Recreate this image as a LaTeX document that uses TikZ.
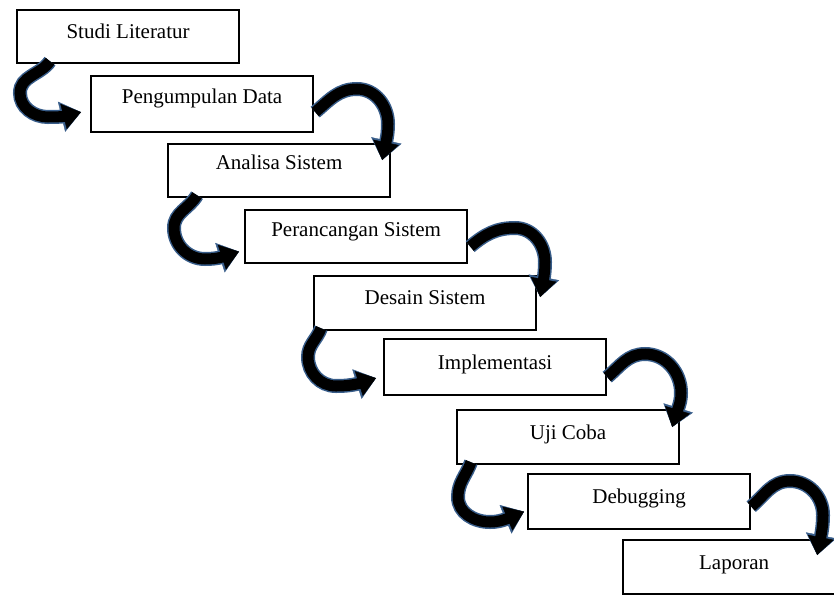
\documentclass[tikz,border=0pt]{standalone}
\usepackage{fontspec}
\setmainfont{Liberation Serif}
\usetikzlibrary{arrows.meta,bending,calc}
\definecolor{arrowblue}{RGB}{56,93,138}
\begin{document}
\begin{tikzpicture}[x=1pt,y=1pt,
  stepbox/.style={draw=black, line width=2.2pt, fill=white, minimum width=222pt,
    text height=25pt, text depth=23pt, inner xsep=0pt, inner ysep=3pt,
    anchor=north west, font=\fontsize{21}{25}\selectfont},
  flowarrow/.style={line width=11pt, draw=black, line cap=butt,
    -{Triangle[length=18pt,width=26pt,line width=0.4pt,flex]},
    preaction={draw=arrowblue, line width=14pt,
      -{Triangle[length=20pt,width=31pt,line width=0.4pt,flex]}}}
]
\useasboundingbox (0,0) rectangle (834,-594);
\clip (0,0) rectangle (834,-594);

% boxes
\node[stepbox, text depth=22pt] (b1) at (16,-9) {Studi Literatur};
\node[stepbox, text height=24pt, text depth=26pt] (b2) at (90,-75) {Pengumpulan Data};
\node[stepbox, text height=22pt, text depth=25pt] (b3) at (167,-143) {Analisa Sistem};
\node[stepbox, text height=23pt, text depth=24pt] (b4) at (244,-209) {Perancangan Sistem};
\node[stepbox] (b5) at (313,-275) {Desain Sistem};
\node[stepbox, text height=27pt, text depth=23pt] (b6) at (383,-338) {Implementasi};
\node[stepbox, text height=26pt, text depth=22pt] (b7) at (456,-409) {Uji Coba};
\node[stepbox, text height=26pt, text depth=23pt] (b8) at (527,-473) {Debugging};
\node[stepbox, text height=26pt, text depth=22pt] (b9) at (622,-539) {Laporan};

% left-hand curved arrows
\draw[flowarrow] ($(b1.south west)+(34,3)$) to[out=235,in=90] (20,-93)
  to[out=-90,in=180] (48,-117) to[out=0,in=200] ($(b2.west)+(-9,-8)$);
\draw[flowarrow] ($(b3.south west)+(30,3)$) to[out=240,in=90] (174,-228)
  to[out=-90,in=180] (205,-259) to[out=0,in=200] ($(b4.west)+(-5,-15)$);
\draw[flowarrow] ($(b5.south west)+(8,3)$) to[out=250,in=90] (308,-357)
  to[out=-90,in=180] (336,-386) to[out=0,in=200] ($(b6.west)+(-7,-11)$);
\draw[flowarrow] ($(b7.south west)+(15,3)$) to[out=250,in=90] (458,-497)
  to[out=-90,in=180] (490,-522) to[out=0,in=200] ($(b8.west)+(-3,-10)$);

% right-hand curved arrows
\draw[flowarrow] ($(b2.east)+(1,-8)$) to[out=40,in=180] (357,-89)
  to[out=0,in=90] (388,-124) to[out=-90,in=80] ($(b3.north east)+(-9,-17)$);
\draw[flowarrow] ($(b4.east)+(2,-10)$) to[out=40,in=180] (515,-228)
  to[out=0,in=90] (545,-262) to[out=-90,in=80] ($(b5.north east)+(3,-22)$);
\draw[flowarrow] ($(b6.east)+(0,-10)$) to[out=40,in=180] (645,-354)
  to[out=0,in=90] (681,-393) to[out=-90,in=80] ($(b7.north east)+(-8,-18)$);
\draw[flowarrow] ($(b8.east)+(0,-5)$) to[out=40,in=180] (790,-481)
  to[out=0,in=90] (823,-515) to[out=-90,in=80] ($(b9.north east)+(-29,-16)$);
\end{tikzpicture}
\end{document}
